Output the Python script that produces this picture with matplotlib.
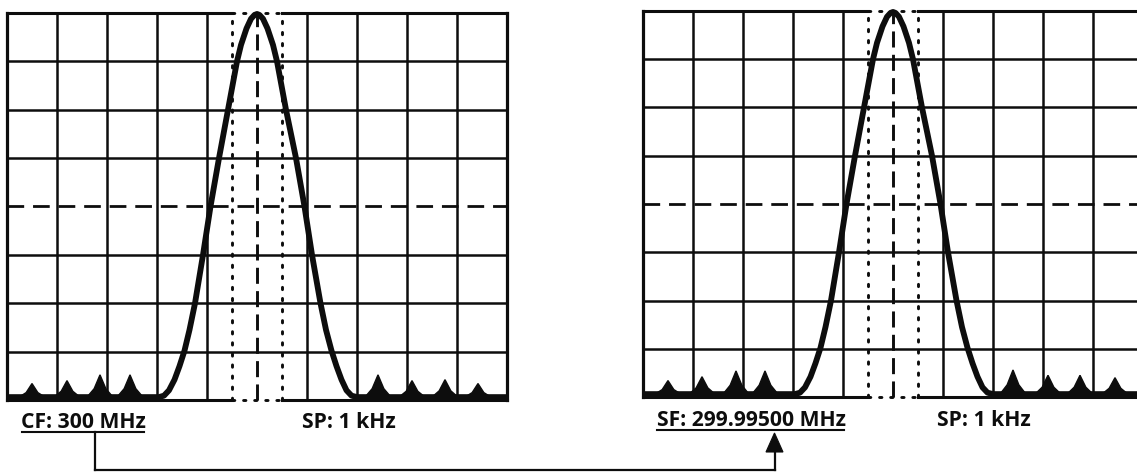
import matplotlib
matplotlib.use("Agg")
import matplotlib.pyplot as plt
from matplotlib.lines import Line2D
from matplotlib.patches import Polygon

W, H = 1137, 472

# graticule: 10 x 8 divisions
n_x_div = 10
n_y_div = 8
center_div = 5.0
rbw_half = 0.5          # dotted bandwidth markers around the centre
baseline_level = 0.06   # displayed noise floor (div)

# carrier trace: offset from centre (div) and level (div)
trace_offset = [-1.96, -1.86, -1.76, -1.65, -1.55, -1.45, -1.35, -1.24,
                -1.08, -0.93, -0.76, -0.58, -0.40, -0.32, -0.21, -0.12,
                -0.05, 0.0, 0.05, 0.12, 0.21, 0.32, 0.40, 0.58, 0.78, 0.95,
                1.10, 1.27, 1.38, 1.49, 1.59, 1.69, 1.79, 1.89, 2.00]
trace_level = [0.06, 0.09, 0.20, 0.42, 0.70, 1.02, 1.45, 2.00,
               3.00, 4.00, 5.00, 6.00, 7.00, 7.34, 7.68, 7.88,
               7.96, 7.98, 7.96, 7.88, 7.68, 7.34, 7.00, 6.00, 5.00, 4.00,
               3.00, 2.00, 1.45, 1.02, 0.70, 0.42, 0.20, 0.09, 0.06]

# noise spikes on the floor: position (div) and height (div)
left_noise_pos = [0.50, 1.20, 1.86, 2.46, 7.42, 8.10, 8.76, 9.42]
left_noise_h = [0.34, 0.40, 0.52, 0.52, 0.52, 0.40, 0.42, 0.34]
right_noise_pos = [0.50, 1.18, 1.86, 2.44, 7.40, 8.10, 8.74, 9.44]
right_noise_h = [0.34, 0.42, 0.54, 0.54, 0.56, 0.45, 0.45, 0.40]

left_labels = ["CF: 300 MHz", "SP: 1 kHz"]
right_labels = ["SF: 299.99500 MHz", "SP: 1 kHz"]

plt.rcParams['font.family'] = ['Open Sans', 'DejaVu Sans']

fig = plt.figure(figsize=(W / 100, H / 100), dpi=100)
fig.patch.set_facecolor('white')

GRID_LW = 1.8
TRACE_LW = 4.2
INK = '#0d0d0d'


def draw_screen(ax, noise_pos, noise_h):
    ax.set_xlim(0, n_x_div)
    ax.set_ylim(0, n_y_div)
    ax.axis('off')
    lo, hi = center_div - rbw_half, center_div + rbw_half
    # vertical divisions
    for i in range(n_x_div + 1):
        if i == int(center_div):
            ax.plot([i, i], [0, n_y_div], color=INK, lw=2.1,
                    ls=(0, (5.5, 2.5)), clip_on=False)
        else:
            ax.plot([i, i], [0, n_y_div], color=INK,
                    lw=GRID_LW + (0.5 if i in (0, n_x_div) else 0),
                    solid_capstyle='projecting', clip_on=False)
    # horizontal divisions
    for j in range(1, n_y_div):
        if j == n_y_div // 2:
            ax.plot([0, n_x_div], [j, j], color=INK, lw=2.0,
                    ls=(0, (6, 3.2)), clip_on=False)
        else:
            ax.plot([0, n_x_div], [j, j], color=INK, lw=GRID_LW, clip_on=False)
    # top and bottom borders, dotted across the bandwidth window
    for yb in (0, n_y_div):
        ax.plot([0, lo], [yb, yb], color=INK, lw=GRID_LW + 0.4,
                solid_capstyle='projecting', clip_on=False)
        ax.plot([hi, n_x_div], [yb, yb], color=INK, lw=GRID_LW + 0.4,
                solid_capstyle='projecting', clip_on=False)
        ax.plot([lo, hi], [yb, yb], color=INK, lw=2.1, ls=(0, (0.8, 3.0)),
                dash_capstyle='round', clip_on=False)
    # dotted bandwidth markers
    for xv in (lo, hi):
        ax.plot([xv, xv], [0, n_y_div], color=INK, lw=2.1,
                ls=(0, (0.8, 3.0)), dash_capstyle='round', clip_on=False)
    # noise spikes
    w = 0.26
    for c, h in zip(noise_pos, noise_h):
        pts = [(c - w, baseline_level), (c - 0.45 * w, 0.45 * h),
               (c, h), (c + 0.45 * w, 0.45 * h), (c + w, baseline_level)]
        ax.add_patch(Polygon(pts, closed=True, facecolor=INK, edgecolor=INK,
                             lw=1.0, joinstyle='miter', clip_on=False))
    # carrier trace with flat floor on either side
    xs = [0] + [center_div + o for o in trace_offset] + [n_x_div]
    ys = [baseline_level] + trace_level + [baseline_level]
    ax.plot(xs, ys, color=INK, lw=TRACE_LW, solid_joinstyle='round',
            solid_capstyle='butt', clip_on=False)


axL = fig.add_axes([7 / W, 72 / H, 500 / W, 387 / H])
draw_screen(axL, left_noise_pos, left_noise_h)
axR = fig.add_axes([643 / W, 75 / H, 500 / W, 386 / H])
draw_screen(axR, right_noise_pos, right_noise_h)


def px(x, y):
    return x / W, 1 - y / H


def label(x, y, s):
    fig.text(*px(x, y), s, fontsize=15.2, fontweight='bold', color=INK,
             ha='left', va='baseline')


def fline(xs, ys, lw=1.6):
    fig.add_artist(Line2D([x / W for x in xs], [1 - y / H for y in ys],
                          color=INK, lw=lw, transform=fig.transFigure))


label(21, 427.5, left_labels[0])
label(302, 427.5, left_labels[1])
label(657, 425.5, right_labels[0])
label(937, 425.5, right_labels[1])

# underlines of the frequency readouts
fline([22, 144], [431.5, 431.5], lw=1.5)
fline([657, 844], [429.5, 429.5], lw=1.5)

# connector from the centre readout to the start readout
fline([95, 95], [432, 469.5])
fline([95, 774.5], [469.5, 469.5])
fline([774.5, 774.5], [469.5, 450])
fig.add_artist(Polygon([px(766, 452), px(783, 452), px(774.5, 433)],
                       closed=True, facecolor=INK, edgecolor=INK, lw=0.8,
                       transform=fig.transFigure))

fig.savefig('out.png', dpi=100, facecolor='white')
